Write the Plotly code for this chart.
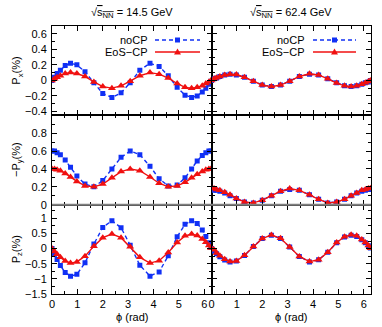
import plotly.graph_objects as go
from plotly.subplots import make_subplots

# ---------------- data ----------------
phi = [0.0, 0.1, 0.2, 0.33, 0.52, 0.73, 0.98, 1.3, 1.65, 2.0, 2.36, 2.72, 3.08,
       3.46, 3.86, 4.22, 4.58, 4.93, 5.24, 5.5, 5.72, 5.92, 6.06, 6.18, 6.26]

# sqrt(s_NN) = 14.5 GeV
px_noCP_145 = [0.0, 0.04, 0.09, 0.13, 0.19, 0.22, 0.2, 0.11, -0.03, -0.17, -0.22, -0.16, -0.03,
               0.13, 0.22, 0.18, 0.06, -0.09, -0.19, -0.22, -0.2, -0.15, -0.1, -0.05, -0.01]
px_eos_145 = [0.0, 0.02, 0.04, 0.06, 0.09, 0.1, 0.09, 0.05, -0.02, -0.08, -0.1, -0.07, -0.01,
              0.06, 0.1, 0.08, 0.03, -0.04, -0.09, -0.1, -0.09, -0.07, -0.04, -0.02, 0.0]
py_noCP_145 = [0.6, 0.6, 0.58, 0.56, 0.5, 0.42, 0.32, 0.23, 0.2, 0.27, 0.4, 0.53, 0.6,
               0.56, 0.43, 0.29, 0.21, 0.22, 0.3, 0.4, 0.49, 0.55, 0.58, 0.6, 0.6]
py_eos_145 = [0.4, 0.4, 0.39, 0.38, 0.35, 0.31, 0.26, 0.21, 0.2, 0.23, 0.3, 0.37, 0.4,
              0.38, 0.31, 0.24, 0.2, 0.21, 0.25, 0.3, 0.34, 0.37, 0.39, 0.4, 0.4]
pz_noCP_145 = [0.0, -0.18, -0.36, -0.56, -0.79, -0.91, -0.85, -0.47, 0.15, 0.7, 0.92, 0.69, 0.11,
               -0.55, -0.91, -0.77, -0.24, 0.39, 0.8, 0.92, 0.83, 0.61, 0.4, 0.19, 0.04]
pz_eos_145 = [0.0, -0.1, -0.19, -0.29, -0.41, -0.48, -0.44, -0.25, 0.08, 0.36, 0.48, 0.36, 0.06,
              -0.29, -0.48, -0.4, -0.13, 0.2, 0.42, 0.48, 0.43, 0.32, 0.21, 0.1, 0.02]

# sqrt(s_NN) = 62.4 GeV
px_noCP_624 = [0.0, 0.02, 0.03, 0.05, 0.07, 0.08, 0.07, 0.04, -0.01, -0.06, -0.08, -0.06, -0.01,
               0.05, 0.08, 0.07, 0.02, -0.03, -0.07, -0.08, -0.07, -0.05, -0.03, -0.02, 0.0]
px_eos_624 = [0.0, 0.02, 0.035, 0.05, 0.07, 0.08, 0.075, 0.04, -0.01, -0.06, -0.08, -0.06, -0.01,
              0.05, 0.085, 0.07, 0.02, -0.035, -0.07, -0.08, -0.07, -0.05, -0.03, -0.015, 0.0]
py_noCP_624 = [0.17, 0.16, 0.16, 0.15, 0.13, 0.1, 0.07, 0.03, 0.02, 0.05, 0.1, 0.15, 0.17,
               0.16, 0.11, 0.06, 0.02, 0.03, 0.06, 0.1, 0.13, 0.15, 0.16, 0.17, 0.17]
py_eos_624 = [0.185, 0.18, 0.17, 0.16, 0.14, 0.11, 0.07, 0.03, 0.02, 0.05, 0.1, 0.15, 0.18,
              0.16, 0.11, 0.06, 0.02, 0.03, 0.06, 0.1, 0.13, 0.16, 0.17, 0.18, 0.185]
pz_noCP_624 = [0.0, -0.09, -0.17, -0.27, -0.38, -0.44, -0.41, -0.23, 0.07, 0.33, 0.44, 0.33, 0.05,
               -0.26, -0.44, -0.37, -0.12, 0.19, 0.38, 0.44, 0.4, 0.29, 0.19, 0.09, 0.02]
pz_eos_624 = [0.01, -0.04, -0.15, -0.24, -0.35, -0.43, -0.41, -0.22, 0.07, 0.33, 0.45, 0.34, 0.05,
              -0.26, -0.43, -0.37, -0.12, 0.2, 0.39, 0.46, 0.42, 0.3, 0.2, 0.1, 0.01]

titles = ["14.5", "62.4"]
ylabels = ["P<sub>x</sub>(%)", "\u2212P<sub>y</sub>(%)", "P<sub>z</sub>(%)"]
series_names = ["noCP", "EoS\u2212CP"]

panels = [
    [(px_noCP_145, px_eos_145), (px_noCP_624, px_eos_624)],
    [(py_noCP_145, py_eos_145), (py_noCP_624, py_eos_624)],
    [(pz_noCP_145, pz_eos_145), (pz_noCP_624, pz_eos_624)],
]
yranges = [[-0.45, 0.7], [0.0, 1.0], [-1.5, 1.45]]
yminor = [0.1, 0.1, 0.25]
ytickvals = [[-0.4, -0.2, 0, 0.2, 0.4, 0.6], [0, 0.2, 0.4, 0.6, 0.8], [-1.5, -1, -0.5, 0, 0.5, 1]]

BLUE = "#1030f5"
RED = "#f01010"
FONT = "Liberation Sans, Arial, sans-serif"

W, H = 382, 327
L, R, T, B = 52, 11, 26, 33
PW, PH = W - L - R, H - T - B


def pxx(x):
    return (x - L) / PW


def pxy(y):
    return (H - B - y) / PH


fig = make_subplots(rows=3, cols=2, horizontal_spacing=0, vertical_spacing=0)

for r in range(3):
    for c in range(2):
        blue, red = panels[r][c]
        fig.add_trace(go.Scatter(x=phi, y=blue, mode="lines+markers", name=series_names[0],
                                 line=dict(color=BLUE, width=1.4, dash="4px,3px"),
                                 marker=dict(symbol="square", size=5, color=BLUE),
                                 showlegend=False), row=r + 1, col=c + 1)
        fig.add_trace(go.Scatter(x=phi, y=red, mode="lines+markers", name=series_names[1],
                                 line=dict(color=RED, width=1.4),
                                 marker=dict(symbol="triangle-up", size=7, color=RED),
                                 showlegend=False), row=r + 1, col=c + 1)
        fig.update_xaxes(range=[0, 6.2832], tick0=0, dtick=1, ticks="inside", ticklen=5,
                         tickcolor="black", showline=True, linecolor="black", linewidth=1,
                         mirror="ticks", showgrid=False, zeroline=False,
                         minor=dict(ticks="inside", ticklen=3, dtick=0.5, tickcolor="black"),
                         showticklabels=(r == 2), tickfont=dict(size=11, color="black"),
                         row=r + 1, col=c + 1)
        fig.update_yaxes(range=yranges[r], tickvals=ytickvals[r], ticks="inside", ticklen=5,
                         tickcolor="black", showline=True, linecolor="black", linewidth=1,
                         mirror="ticks", showgrid=False, zeroline=False,
                         minor=dict(ticks="inside", ticklen=3, dtick=yminor[r], tickcolor="black"),
                         showticklabels=(c == 0), tickfont=dict(size=11, color="black"),
                         ticklabelstandoff=2,
                         row=r + 1, col=c + 1)

annotations = []
for c, t in enumerate(titles):
    cx = L + PW * (0.25 + 0.5 * c)
    annotations.append(dict(
        text="\u221a<span style='text-decoration:overline'>s<sub>NN</sub></span> = " + t + " GeV",
        x=pxx(cx), y=pxy(13), xref="paper", yref="paper", showarrow=False,
        xanchor="center", yanchor="middle", font=dict(size=11, color="black", family=FONT)))
    annotations.append(dict(text="\u03d5 (rad)", x=pxx(cx), y=pxy(317), xref="paper", yref="paper",
                            showarrow=False, xanchor="center", yanchor="middle",
                            font=dict(size=11, color="black", family=FONT)))
for r, lab in enumerate(ylabels):
    cy = T + PH / 3 * (r + 0.5)
    annotations.append(dict(text=lab, x=pxx(17), y=pxy(cy), xref="paper", yref="paper",
                            showarrow=False, textangle=-90, xanchor="center", yanchor="middle",
                            font=dict(size=11, color="black", family=FONT)))

shapes = []
# legend in the top panels (text left of the sample line)
legend_pos = [(150, 155, 200), (307, 313, 356)]
for tx, lx0, lx1 in legend_pos:
    for k, (nm, col) in enumerate(zip(series_names, [BLUE, RED])):
        yy = 40 + 12 * k
        annotations.append(dict(text=nm, x=pxx(tx), y=pxy(yy), xref="paper", yref="paper",
                                showarrow=False, xanchor="right", yanchor="middle",
                                font=dict(size=11, color="black", family=FONT)))
        shapes.append(dict(type="line", xref="paper", yref="paper", x0=pxx(lx0), x1=pxx(lx1),
                           y0=pxy(yy), y1=pxy(yy),
                           line=dict(color=col, width=1.4, dash="4px,3px" if k == 0 else "solid")))
        mx = (lx0 + lx1) / 2
        if k == 0:
            shapes.append(dict(type="rect", xref="paper", yref="paper",
                               x0=pxx(mx - 2.5), x1=pxx(mx + 2.5), y0=pxy(yy + 2.5), y1=pxy(yy - 2.5),
                               fillcolor=col, line=dict(width=0)))
        else:
            shapes.append(dict(type="path", xref="paper", yref="paper",
                               path="M {} {} L {} {} L {} {} Z".format(
                                   pxx(mx - 3.5), pxy(yy + 2.5), pxx(mx + 3.5), pxy(yy + 2.5),
                                   pxx(mx), pxy(yy - 3.5)),
                               fillcolor=col, line=dict(width=0)))

# grey line at the bottom of the middle row
shapes.append(dict(type="line", xref="paper", yref="paper", x0=0, x1=1, y0=1 / 3, y1=1 / 3,
                   line=dict(color="#808080", width=2)))

fig.update_layout(width=W, height=H, margin=dict(l=L, r=R, t=T, b=B),
                  paper_bgcolor="white", plot_bgcolor="white",
                  font=dict(family=FONT, size=11, color="black"),
                  annotations=annotations, shapes=shapes, showlegend=False)

fig.write_html("out.html", config={"displayModeBar": False, "staticPlot": True},
               post_script="document.body.style.margin='0px';document.body.style.overflow='hidden';")
